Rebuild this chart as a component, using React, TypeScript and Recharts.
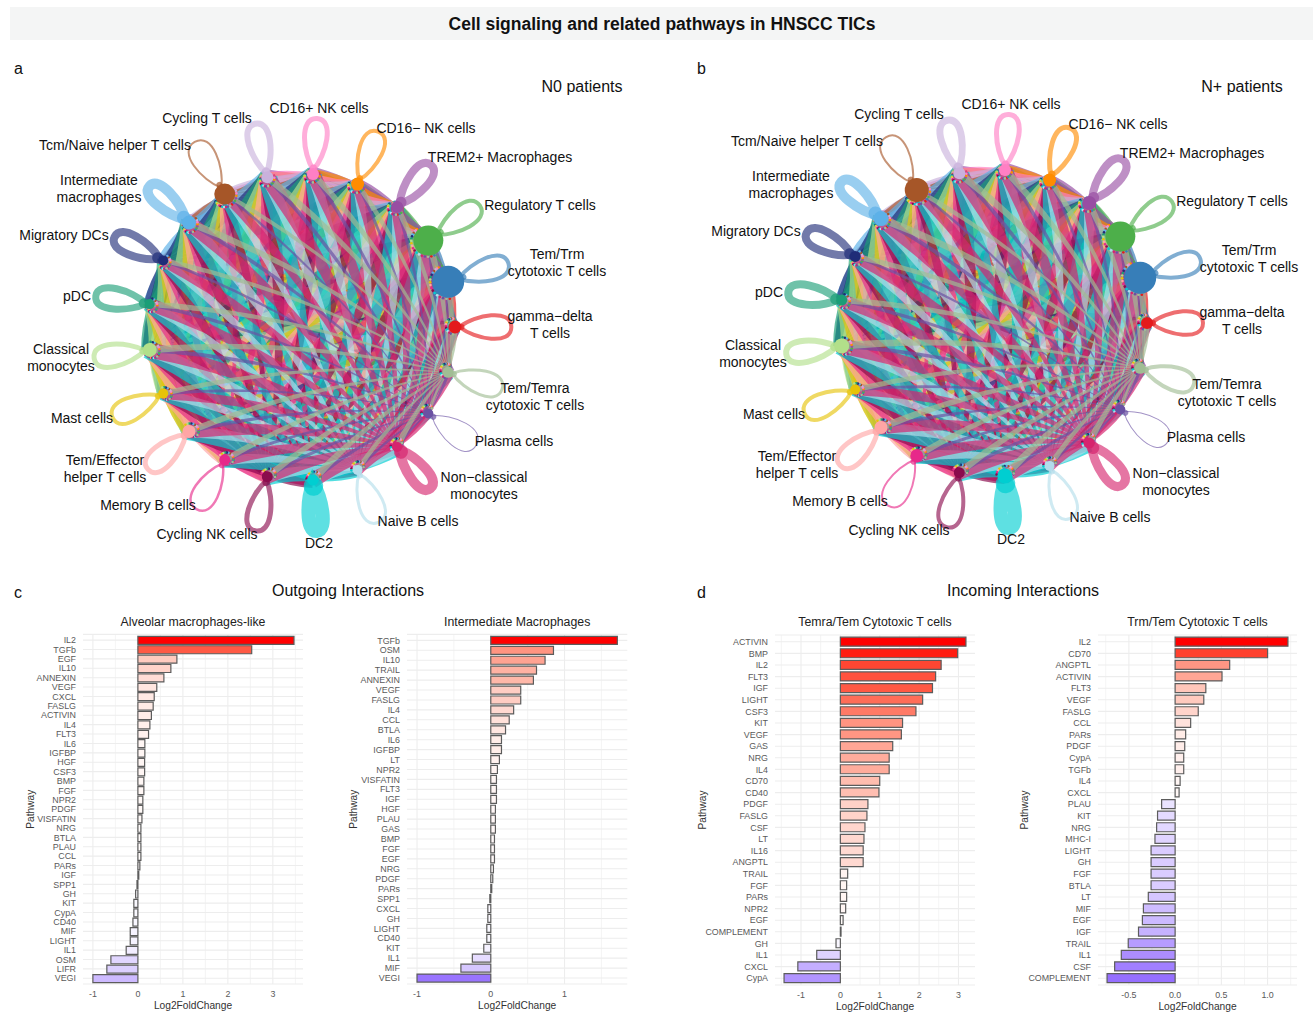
import React from "react";
import {
  BarChart, Bar, Cell, XAxis, YAxis, CartesianGrid, ScatterChart, Scatter,
} from "recharts";

// ---- network data: index 0 sits at 3 o'clock, then counter-clockwise ----
const CELLS = [
  "gamma-delta T cells", "Tem/Trm cytotoxic T cells", "Regulatory T cells", "TREM2+ Macrophages",
  "CD16- NK cells", "CD16+ NK cells", "Cycling T cells", "Tcm/Naive helper T cells",
  "Intermediate macrophages", "Migratory DCs", "pDC", "Classical monocytes", "Mast cells",
  "Tem/Effector helper T cells", "Memory B cells", "Cycling NK cells", "DC2", "Naive B cells",
  "Non-classical monocytes", "Plasma cells", "Tem/Temra cytotoxic T cells",
];
const CELL_COLORS = [
  "#E41A1C", "#377EB8", "#4DAF4A", "#984EA3", "#FF8C00", "#FF7FC4", "#C9B1DC", "#A65628",
  "#5DB1E8", "#1F2D78", "#1B9E77", "#B2E08A", "#E6C308", "#FFA5A5", "#E7298A", "#8B0B4D",
  "#00CED1", "#B3DDEB", "#D6246E", "#6A51A3", "#A0BD94",
];
const CELL_LABELS = [
  ["gamma\u2212delta", "T cells"], ["Tem/Trm", "cytotoxic T cells"], ["Regulatory T cells"], ["TREM2+ Macrophages"],
  ["CD16\u2212 NK cells"], ["CD16+ NK cells"], ["Cycling T cells"], ["Tcm/Naive helper T cells"],
  ["Intermediate", "macrophages"], ["Migratory DCs"], ["pDC"], ["Classical", "monocytes"], ["Mast cells"],
  ["Tem/Effector", "helper T cells"], ["Memory B cells"], ["Cycling NK cells"], ["DC2"], ["Naive B cells"],
  ["Non\u2212classical", "monocytes"], ["Plasma cells"], ["Tem/Temra", "cytotoxic T cells"],
];
const LABEL_X = [550, 557, 540, 500, 426, 319, 207, 115, 99, 64, 77, 61, 82, 105, 148, 207, 319, 418, 484, 514, 535];
const LABEL_Y = [324, 262, 205, 157, 128, 108, 118, 145, 188, 235, 296, 357, 418, 468, 505, 534, 543, 521, 485, 441, 396];

const N0_NODE_SIZE = [6.5, 16, 15, 6, 6.5, 6, 6, 10.5, 7, 5, 5, 7, 5, 6.5, 5.5, 5.5, 5.5, 5, 5, 5, 5.5];
const N0_LOOP = [4, 4, 4, 8, 4, 5, 6, 2, 10, 8, 7, 5, 4, 5, 2.5, 5, 14, 3, 10, 1, 3];
const N0_OUT = [7, 9, 9, 12, 8, 8, 9, 5, 13, 11, 13, 12, 10, 12, 10, 12, 15, 10, 12, 3.5, 5.5];
const NP_NODE_SIZE = [6, 16, 15, 7, 6.5, 6, 6, 12, 7.5, 5.5, 5.5, 7.5, 5, 6.5, 6.5, 5.5, 7.5, 5, 5.5, 5, 5.5];
const NP_LOOP = [4, 4, 4, 8, 5, 5, 7, 2, 10, 8, 8, 6, 4, 5, 2, 4, 14, 3, 9, 1, 4];
const NP_OUT = [7, 9, 9, 12, 8, 8, 9, 5, 13, 11, 13, 12, 10, 12, 10, 12, 15, 10, 12, 3.5, 6];
const IN_WEIGHT = [0.8, 1.1, 1.1, 0.9, 0.8, 1, 1.1, 0.7, 1.1, 0.8, 0.9, 1.1, 0.8, 1, 0.9, 1, 1.1, 0.8, 1, 0.6, 0.9];

// ---- bar panels ----
const C1_NAMES = ["IL2", "TGFb", "EGF", "IL10", "ANNEXIN", "VEGF", "CXCL", "FASLG", "ACTIVIN", "IL4", "FLT3", "IL6", "IGFBP", "HGF", "CSF3", "BMP", "FGF", "NPR2", "PDGF", "VISFATIN", "NRG", "BTLA", "PLAU", "CCL", "PARs", "IGF", "SPP1", "GH", "KIT", "CypA", "CD40", "MIF", "LIGHT", "IL1", "OSM", "LIFR", "VEGI"];
const C1_VALUES = [3.47, 2.53, 0.867, 0.733, 0.578, 0.42, 0.363, 0.34, 0.3, 0.267, 0.237, 0.155, 0.155, 0.15, 0.15, 0.133, 0.133, 0.11, 0.11, 0.09, 0.067, 0.067, 0.067, 0.067, 0.044, 0.02, -0.02, -0.05, -0.09, -0.09, -0.11, -0.17, -0.17, -0.26, -0.6, -0.69, -1];
const C2_NAMES = ["TGFb", "OSM", "IL10", "TRAIL", "ANNEXIN", "VEGF", "FASLG", "IL4", "CCL", "BTLA", "IL6", "IGFBP", "LT", "NPR2", "VISFATIN", "FLT3", "IGF", "HGF", "PLAU", "GAS", "BMP", "FGF", "EGF", "NRG", "PDGF", "PARs", "SPP1", "CXCL", "GH", "LIGHT", "CD40", "KIT", "IL1", "MIF", "VEGI"];
const C2_VALUES = [1.716, 0.85, 0.736, 0.62, 0.578, 0.406, 0.406, 0.31, 0.25, 0.2, 0.145, 0.145, 0.117, 0.09, 0.077, 0.077, 0.077, 0.063, 0.063, 0.063, 0.05, 0.05, 0.05, 0.036, 0.027, 0.013, -0.013, -0.04, -0.04, -0.054, -0.054, -0.095, -0.25, -0.405, -1];
const D1_NAMES = ["ACTIVIN", "BMP", "IL2", "FLT3", "IGF", "LIGHT", "CSF3", "KIT", "VEGF", "GAS", "NRG", "IL4", "CD70", "CD40", "PDGF", "FASLG", "CSF", "LT", "IL16", "ANGPTL", "TRAIL", "FGF", "PARs", "NPR2", "EGF", "COMPLEMENT", "GH", "IL1", "CXCL", "CypA"];
const D1_VALUES = [3.19, 2.98, 2.56, 2.42, 2.34, 2.09, 1.92, 1.58, 1.55, 1.33, 1.24, 1.24, 1.0, 0.98, 0.7, 0.675, 0.625, 0.6, 0.58, 0.58, 0.186, 0.16, 0.16, 0.135, 0.07, 0.017, -0.11, -0.6, -1.08, -1.43];
const D2_NAMES = ["IL2", "CD70", "ANGPTL", "ACTIVIN", "FLT3", "VEGF", "FASLG", "CCL", "PARs", "PDGF", "CypA", "TGFb", "IL4", "CXCL", "PLAU", "KIT", "NRG", "MHC-I", "LIGHT", "GH", "FGF", "BTLA", "LT", "MIF", "EGF", "IGF", "TRAIL", "IL1", "CSF", "COMPLEMENT"];
const D2_VALUES = [1.22, 1.0, 0.59, 0.507, 0.332, 0.31, 0.25, 0.168, 0.114, 0.104, 0.093, 0.093, 0.054, 0.043, -0.146, -0.19, -0.2, -0.218, -0.26, -0.26, -0.26, -0.26, -0.29, -0.343, -0.354, -0.396, -0.507, -0.582, -0.654, -0.736];

const FONT = "'Liberation Sans', Arial, sans-serif";
const GRID = "#EDEDED";

const NET_W = 640;
const NET_H = 520;
const NET_R = 153.5; // px per layout unit
const NET_CX = 301.5;
const NET_CY = 267;

function EdgeLayer({ points, edges, sizes }: any) {
  const wedges: React.ReactNode[] = [];
  const heads: React.ReactNode[] = [];
  edges.forEach((e: any, i: number) => {
    const a = points[i * 2];
    const b = points[i * 2 + 1];
    if (!a || !b) return;
    const dx = b.x - a.x;
    const dy = b.y - a.y;
    const len = Math.hypot(dx, dy);
    const nx = -dy / len;
    const ny = dx / len;
    const mx = (a.x + b.x) / 2 + nx * len * 0.08;
    const my = (a.y + b.y) / 2 + ny * len * 0.08;
    const w0 = e.w * 0.1;
    const w1 = e.w * 0.6;
    const wm = (w0 + w1) / 2;
    const d = `M${a.x + nx * w0},${a.y + ny * w0} Q${mx + nx * wm},${my + ny * wm} ${b.x + nx * w1},${b.y + ny * w1} L${b.x - nx * w1},${b.y - ny * w1} Q${mx - nx * wm},${my - ny * wm} ${a.x - nx * w0},${a.y - ny * w0} Z`;
    wedges.push(<path key={i} d={d} fill={CELL_COLORS[e.from]} fillOpacity={0.68} stroke="none" />);
    const r = sizes[e.to] + 1;
    heads.push(<circle key={i} cx={b.x - (dx / len) * r - nx * len * 0.02} cy={b.y - (dy / len) * r - ny * len * 0.02} r={1.3} fill={CELL_COLORS[e.from]} />);
  });
  return <g>{wedges}{heads}</g>;
}

function NodeShape(props: any) {
  const { cx, cy, payload } = props;
  const deg = (Math.atan2(-payload.y, payload.x) * 180) / Math.PI;
  const color = CELL_COLORS[payload.index];
  const lines = CELL_LABELS[payload.index];
  const sw = payload.loop;
  // outer loop size stays about the same, so a thick stroke only closes the hole
  const base = Math.max(0, payload.size - 6) * 0.7;
  const tip = base + 58 - sw / 2;
  const k = Math.max(1, 29 - sw) / 2 / 14.5;
  const start = base + 4;
  const loopPath = `M${start},0 C${start + (tip - start) * 0.3},${-14 * k} ${tip},${-22 * k} ${tip},0 C${tip},${22 * k} ${start + (tip - start) * 0.3},${14 * k} ${start},0 Z`;
  return (
    <g>
      <g transform={`translate(${cx},${cy}) rotate(${deg})`}>
        <path d={loopPath} fill="none" stroke={color} strokeWidth={sw} strokeOpacity={0.63} />
        <circle cx={Math.max(payload.size, 6)} cy={0} r={Math.max(3, sw * 0.7)} fill={color} fillOpacity={0.7} />
      </g>
      <circle cx={cx} cy={cy} r={payload.size} fill={color} />
      <text x={LABEL_X[payload.index]} y={LABEL_Y[payload.index] - 60 + 5 - (lines.length - 1) * 8.5} textAnchor="middle" fontSize={14} fill="#111" fontFamily={FONT}>
        {lines.map((t: string, k2: number) => (
          <tspan key={k2} x={LABEL_X[payload.index]} dy={k2 ? 17 : 0}>{t}</tspan>
        ))}
      </text>
    </g>
  );
}

function Network({ left, top, sizes, loops, out }: { left: number; top: number; sizes: number[]; loops: number[]; out: number[] }) {
  const nodes = CELLS.map((name, index) => {
    const t = (index * 2 * Math.PI) / CELLS.length;
    return { name, index, x: Math.cos(t), y: Math.sin(t), size: sizes[index], loop: loops[index] };
  });
  const edges: { from: number; to: number; w: number }[] = [];
  const edgeData: { x: number; y: number }[] = [];
  nodes.forEach((a) => {
    nodes.forEach((b) => {
      if (a.index === b.index) return;
      edges.push({ from: a.index, to: b.index, w: out[a.index] * IN_WEIGHT[b.index] });
      edgeData.push({ x: a.x, y: a.y }, { x: b.x, y: b.y });
    });
  });
  return (
    <div style={{ position: "absolute", left, top }}>
      <ScatterChart width={NET_W} height={NET_H} margin={{ top: 0, right: 0, bottom: 0, left: 0 }}>
        <XAxis type="number" dataKey="x" hide allowDataOverflow domain={[-NET_CX / NET_R, (NET_W - NET_CX) / NET_R]} />
        <YAxis type="number" dataKey="y" hide allowDataOverflow domain={[-(NET_H - NET_CY) / NET_R, NET_CY / NET_R]} />
        <Scatter
          data={edgeData}
          isAnimationActive={false}
          shape={() => <g />}
          line={(p: any) => <EdgeLayer points={p.points} edges={edges} sizes={sizes} />}
        />
        <Scatter data={nodes} isAnimationActive={false} shape={NodeShape} />
      </ScatterChart>
    </div>
  );
}

function barColor(v: number, maxAbs: number) {
  const t = Math.min(1, Math.abs(v) / maxAbs);
  if (v >= 0) {
    return `rgb(255,${Math.round(255 * Math.pow(1 - t, 0.8))},${Math.round(255 * (1 - t))})`;
  }
  return `rgb(${Math.round(255 - 175 * t)},${Math.round(255 - 238 * t)},255)`;
}

function BarPanel({ title, names, values, plotLeft, plotRight, plotTop, plotBottom, domain, ticks, minor, decimals = 0, axisW, pathwayX }: any) {
  const data = names.map((name: string, i: number) => ({ name, value: values[i] }));
  const maxAbs = Math.max(...values.map((v: number) => Math.abs(v)));
  const top = 610;
  const left = plotLeft - axisW;
  const width = plotRight - left + 4;
  return (
    <div style={{ position: "absolute", left, top }}>
      <div style={{ position: "absolute", left: axisW, width: plotRight - plotLeft, top: 5, textAlign: "center", fontFamily: FONT, fontSize: 12.3, color: "#222", whiteSpace: "nowrap" }}>{title}</div>
      <BarChart width={width} height={1014 - top} data={data} layout="vertical" margin={{ top: plotTop - top, right: 4, bottom: 1014 - plotBottom - 30, left: 0 }} barCategoryGap="10%">
        <CartesianGrid stroke={GRID} strokeWidth={0.6} horizontal={false} verticalValues={minor} />
        <CartesianGrid stroke={GRID} strokeWidth={1.1} verticalValues={ticks} />
        <XAxis
          type="number" domain={domain} allowDataOverflow ticks={ticks} height={30} axisLine={false} tickLine={false}
          tickMargin={1} tick={{ fill: "#5A5A5A", fontSize: 8.9, fontFamily: FONT }}
          tickFormatter={(v: number) => v.toFixed(decimals)}
          label={{ value: "Log2FoldChange", position: "insideBottom", offset: 5, fill: "#333", fontSize: 10.2, fontFamily: FONT }}
        />
        <YAxis
          type="category" dataKey="name" width={axisW} interval={0} axisLine={false} tickLine={false} padding={{ top: 1, bottom: 1 }}
          tickMargin={1} tick={{ fill: "#5A5A5A", fontSize: 8.9, fontFamily: FONT }}
          label={{ value: "Pathway", angle: -90, position: "insideLeft", offset: pathwayX, fill: "#333", fontSize: 10.2, fontFamily: FONT, style: { textAnchor: "middle" } }}
        />
        <Bar dataKey="value" stroke="#5C5C5C" strokeWidth={1.2} isAnimationActive={false}>
          {data.map((d: any, i: number) => <Cell key={i} fill={barColor(d.value, maxAbs)} />)}
        </Bar>
      </BarChart>
    </div>
  );
}

function Txt({ x, y, size = 16, children, center = false, bold = false }: any) {
  return (
    <div style={{ position: "absolute", left: center ? x - 300 : x, top: y, width: center ? 600 : undefined, textAlign: center ? "center" : "left", transform: "translateY(-50%)", fontFamily: FONT, fontSize: size, fontWeight: bold ? 700 : 400, color: "#111", whiteSpace: "nowrap" }}>
      {children}
    </div>
  );
}

export default function App() {
  return (
    <div style={{ position: "absolute", left: 0, top: 0, width: 1313, height: 1015, overflow: "hidden", background: "#fff" }}>
      <div style={{ position: "absolute", left: 10, top: 7, width: 1303, height: 33, background: "#F4F5F5" }} />
      <Txt x={662} y={24} size={17.5} center bold>Cell signaling and related pathways in HNSCC TICs</Txt>
      <Network left={0} top={60} sizes={N0_NODE_SIZE} loops={N0_LOOP} out={N0_OUT} />
      <Network left={692} top={56} sizes={NP_NODE_SIZE} loops={NP_LOOP} out={NP_OUT} />
      <Txt x={14} y={69}>a</Txt>
      <Txt x={697} y={69}>b</Txt>
      <Txt x={14} y={593}>c</Txt>
      <Txt x={697} y={593}>d</Txt>
      <Txt x={582} y={87} center>N0 patients</Txt>
      <Txt x={1242} y={87} center>N+ patients</Txt>
      <Txt x={348} y={591} center>Outgoing Interactions</Txt>
      <Txt x={1023} y={591} center>Incoming Interactions</Txt>
      <BarPanel title="Alveolar macrophages-like" names={C1_NAMES} values={C1_VALUES} plotLeft={83} plotRight={303} plotTop={634.4} plotBottom={984} domain={[-1.22, 3.67]} ticks={[-1, 0, 1, 2, 3]} minor={[-0.5, 0.5, 1.5, 2.5, 3.5]} axisW={70} pathwayX={17} />
      <BarPanel title="Intermediate Macrophages" names={C2_NAMES} values={C2_VALUES} plotLeft={407} plotRight={627.3} plotTop={634.4} plotBottom={984} domain={[-1.136, 1.851]} ticks={[-1, 0, 1]} minor={[-0.5, 0.5, 1.5]} axisW={70} pathwayX={16} />
      <BarPanel title="Temra/Tem Cytotoxic T cells" names={D1_NAMES} values={D1_VALUES} plotLeft={775} plotRight={975} plotTop={635} plotBottom={985} domain={[-1.66, 3.42]} ticks={[-1, 0, 1, 2, 3]} minor={[-1.5, -0.5, 0.5, 1.5, 2.5]} axisW={90} pathwayX={17} />
      <BarPanel title="Trm/Tem Cytotoxic T cells" names={D2_NAMES} values={D2_VALUES} plotLeft={1098} plotRight={1297} plotTop={635} plotBottom={985} domain={[-0.834, 1.318]} ticks={[-0.5, 0, 0.5, 1]} minor={[-0.75, -0.25, 0.25, 0.75, 1.25]} decimals={1} axisW={90} pathwayX={16} />
    </div>
  );
}
